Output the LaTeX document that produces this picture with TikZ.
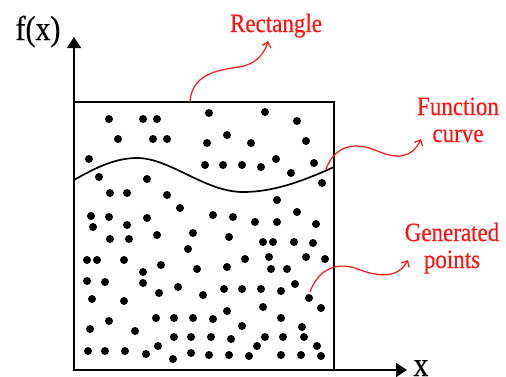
\documentclass[tikz,border=0pt]{standalone}
\usepackage{fontspec}
\setmainfont{Liberation Serif}
\newfontfamily\lblfont[FakeBold=0.4]{Liberation Serif}
\usetikzlibrary{arrows.meta}
\definecolor{lblred}{RGB}{255,20,20}
\newcommand{\tallt}[1]{\scalebox{1}[1.15]{#1}}
\tikzset{
  axis/.style={line width=1.8pt,-{Triangle[length=11pt,width=14pt]}},
  frame/.style={line width=1.5pt},
  fcurve/.style={line width=1.7pt},
  redarrow/.style={draw=lblred,line width=1.2pt,-{Straight Barb[length=5pt,width=9pt]}},
  redlabel/.style={text=lblred,font=\lblfont\fontsize{23}{26}\selectfont,align=center,inner sep=0pt},
  axlabel/.style={font=\lblfont\fontsize{30}{32}\selectfont,inner sep=0pt},
  dot/.style={fill=black}
}
\begin{document}
\begin{tikzpicture}[x=1pt,y=-1pt]
\useasboundingbox (0,0) rectangle (506,376);
% rectangle
\draw[frame] (74,102) rectangle (334,370);
% axes
\coordinate (O) at (74,370);
\coordinate (ytip) at (74,37);
\coordinate (xtip) at (407,370);
\draw[axis] (O) -- (ytip);
\draw[axis] (O) -- (xtip);
\node[axlabel,anchor=base] (fx) at (38,40) {\tallt{f(x)}};
\node[axlabel,anchor=base] (xl) at (421,376) {\tallt{x}};
% function curve
\draw[fcurve] (74,180) .. controls (95,168) and (115,158) .. (137,158)
  .. controls (170,158) and (205,192) .. (243,192)
  .. controls (275,192) and (305,180) .. (334,167);
% dots
\foreach \x/\y in {109/119,143/119,157/119,118/139,153/139,167/139,89/159,99/177,147/179,
  110/193,127/193,167/195,180/208,91/216,109/217,147/218,93/227,127/225,
  209/113,265/112,297/121,227/135,207/143,251/143,306/141,205/165,223/165,242/165,
  261/167,276/159,314/163,291/173,322/183,277/200,213/215,233/217,255/222,277/222,297/212,316/224,
  110/239,129/239,157/235,193/233,188/249,87/260,97/260,124/260,143/272,161/265,197/269,
  87/281,105/282,143/283,178/287,159/293,203/295,92/299,124/301,109/321,156/318,174/318,
  193/318,90/329,135/331,174/337,191/337,158/346,88/351,105/351,125/351,146/354,173/359,191/353,
  229/237,263/242,273/242,294/242,313/243,245/259,269/257,306/257,325/259,227/267,271/269,287/269,
  224/289,242/289,261/289,281/291,295/284,309/298,227/311,263/307,321/308,213/319,242/326,
  281/318,302/327,211/337,231/339,265/337,283/337,304/337,257/346,317/346,209/355,229/355,
  249/356,281/355,301/355,321/356}
  \fill[dot] (\x,\y) circle[radius=4];
% labels
\node[redlabel,anchor=base] (rl) at (276,32) {\tallt{Rectangle}};
\node[redlabel,anchor=base] (fl1) at (458,115) {\tallt{Function}};
\node[redlabel,anchor=base] (fl2) at (458,142) {\tallt{curve}};
\node[redlabel,anchor=base] (gl1) at (452,241) {\tallt{Generated}};
\node[redlabel,anchor=base] (gl2) at (452,268) {\tallt{points}};
% red arrows
\coordinate (ra) at (190,102);
\coordinate (rb) at (268,41);
\coordinate (fa) at (326,169);
\coordinate (fb) at (421,139);
\coordinate (ga) at (310,292);
\coordinate (gb) at (408,260);
\draw[redarrow] (ra) .. controls (192,70) and (225,70) .. (244,66)
  .. controls (258,62) and (265,52) .. (rb);
\draw[redarrow] (fa) .. controls (335,145) and (355,142) .. (375,150)
  .. controls (398,160) and (412,158) .. (fb);
\draw[redarrow] (ga) .. controls (318,270) and (335,262) .. (355,268)
  .. controls (380,278) and (398,278) .. (gb);
\end{tikzpicture}
\end{document}
